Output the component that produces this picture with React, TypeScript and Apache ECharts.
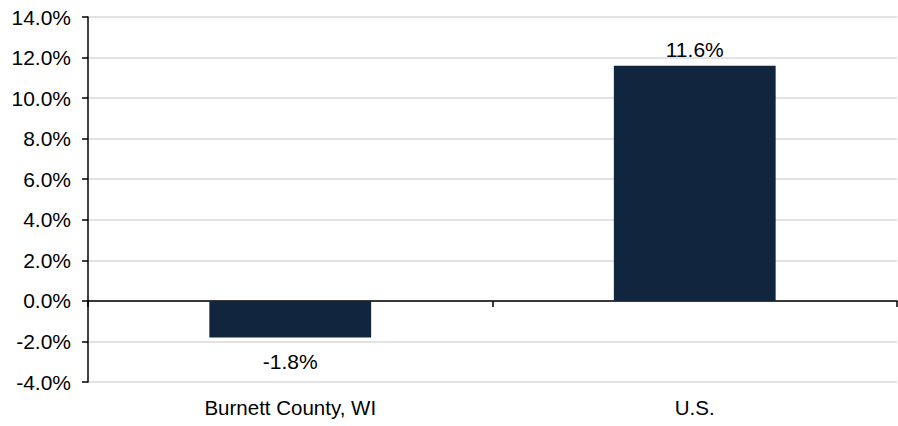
import React, { useEffect, useRef } from "react";
import * as echarts from "echarts";

const categories = ["Burnett County, WI", "U.S."];
const values = [-1.8, 11.6];
const yMin = -4;
const yMax = 14;
const yInterval = 2;

export default function App() {
  const ref = useRef<HTMLDivElement>(null);
  useEffect(() => {
    if (!ref.current) return;
    const chart = echarts.init(ref.current, undefined, { renderer: "svg" });
    const font = "Liberation Sans, Arial, sans-serif";
    chart.setOption({
      animation: false,
      grid: { left: 88, right: 1, top: 17, bottom: 44, containLabel: false },
      xAxis: [
        {
          type: "category",
          data: categories,
          position: "bottom",
          axisLine: { show: false, onZero: false },
          axisTick: { show: false },
          axisLabel: { color: "#000", fontSize: 20.5, fontFamily: font, margin: 15 },
          splitLine: { show: false },
        },
        {
          type: "category",
          data: categories,
          position: "top",
          axisLine: { show: true, onZero: true, lineStyle: { color: "#000", width: 1.5 } },
          axisTick: { show: true, inside: true, length: 6, lineStyle: { color: "#000", width: 1.5 } },
          axisLabel: { show: false },
          splitLine: { show: false },
        },
      ],
      yAxis: {
        type: "value",
        min: yMin,
        max: yMax,
        interval: yInterval,
        axisLine: { show: true, lineStyle: { color: "#000", width: 1.5 } },
        axisTick: { show: true, length: 6, lineStyle: { color: "#000", width: 1.5 } },
        axisLabel: {
          color: "#000",
          fontSize: 21,
          fontFamily: font,
          margin: 17,
          formatter: (v: number) => v.toFixed(1) + "%",
        },
        splitLine: { show: true, lineStyle: { color: "#d9d9d9", width: 1.5 } },
      },
      series: [
        {
          type: "bar",
          xAxisIndex: 0,
          barWidth: "40%",
          data: values.map((v) => ({
            value: v,
            label: { position: v < 0 ? "bottom" : "top", distance: v < 0 ? 14 : 6 },
          })),
          itemStyle: { color: "#12253f" },
          label: {
            show: true,
            color: "#000",
            fontSize: 21,
            fontFamily: font,
            formatter: (p: any) => Number(p.value).toFixed(1) + "%",
          },
        },
      ],
    });
    return () => chart.dispose();
  }, []);
  return (
    <div
      ref={ref}
      style={{ position: "absolute", left: 0, top: 0, width: 898, height: 426 }}
    />
  );
}
